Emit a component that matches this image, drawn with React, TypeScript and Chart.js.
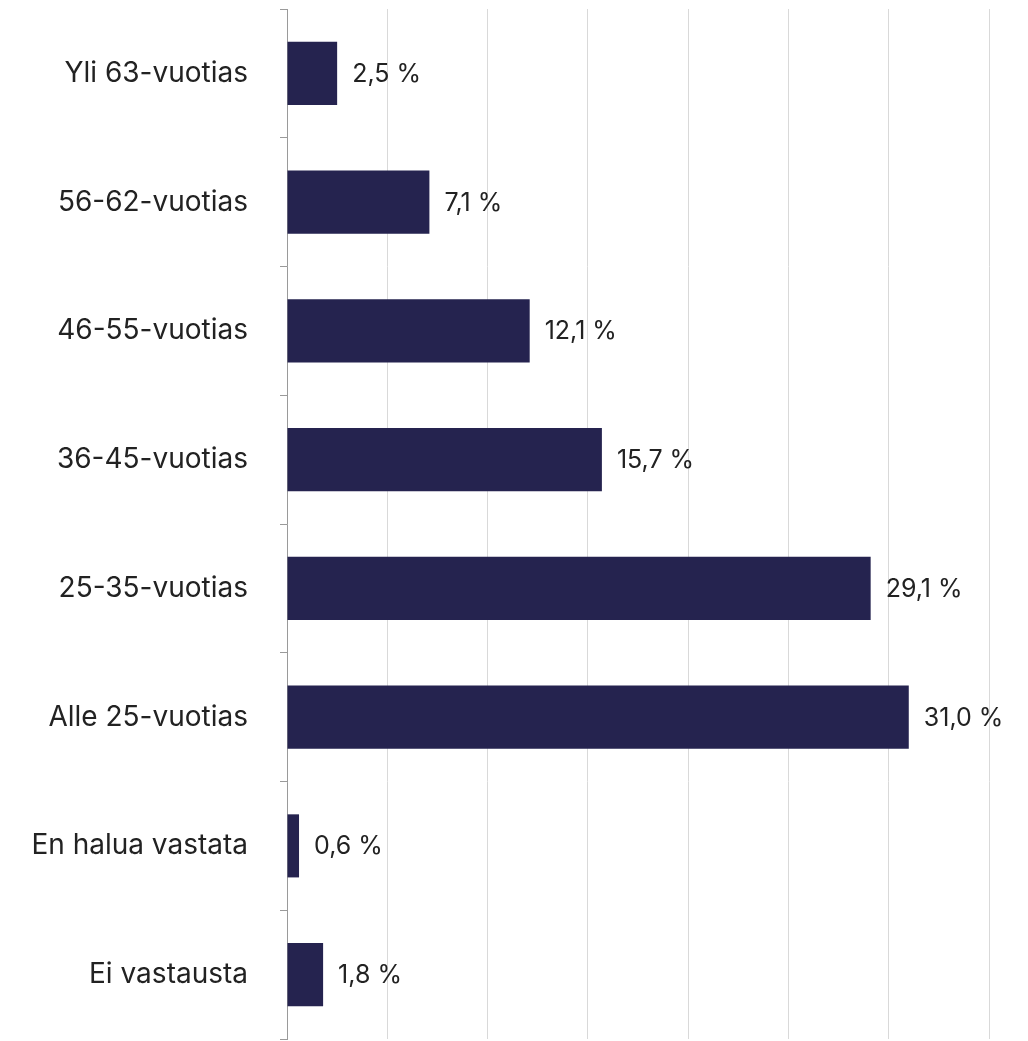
import React, { useEffect, useRef } from "react";
import { Chart, registerables } from "chart.js";

Chart.register(...registerables);

const categories = [
  "Yli 63-vuotias",
  "56-62-vuotias",
  "46-55-vuotias",
  "36-45-vuotias",
  "25-35-vuotias",
  "Alle 25-vuotias",
  "En halua vastata",
  "Ei vastausta",
];
const values = [2.5, 7.1, 12.1, 15.7, 29.1, 31.0, 0.6, 1.8];
const valueLabels = ["2,5 %", "7,1 %", "12,1 %", "15,7 %", "29,1 %", "31,0 %", "0,6 %", "1,8 %"];

const FONT = "Inter, 'Liberation Sans', sans-serif";

const labelPlugin = {
  id: "valueLabels",
  afterDatasetsDraw(chart: any) {
    const ctx = chart.ctx;
    const meta = chart.getDatasetMeta(0);
    ctx.save();
    ctx.font = `400 25px ${FONT}`;
    ctx.fillStyle = "#222222";
    ctx.textAlign = "left";
    ctx.textBaseline = "middle";
    meta.data.forEach((bar: any, i: number) => {
      ctx.fillText(valueLabels[i], bar.x + 15, bar.y + 1);
    });
    ctx.restore();
  },
};

export default function App() {
  const ref = useRef<HTMLCanvasElement | null>(null);
  useEffect(() => {
    if (!ref.current) return;
    const chart = new Chart(ref.current, {
      type: "bar",
      data: {
        labels: categories,
        datasets: [
          {
            data: values,
            backgroundColor: "#25234f",
            borderWidth: 0,
            barPercentage: 0.49,
            categoryPercentage: 1,
          },
        ],
      },
      options: {
        indexAxis: "y",
        animation: false,
        responsive: true,
        maintainAspectRatio: false,
        layout: { padding: { left: 0, top: 9, right: 39, bottom: 2 } },
        plugins: { legend: { display: false }, tooltip: { enabled: false } },
        scales: {
          x: {
            min: 0,
            max: 35,
            ticks: { display: false, stepSize: 5 },
            grid: { color: "#d9d9d9", lineWidth: 1, drawTicks: false },
            border: { display: false },
          },
          y: {
            afterFit: (scale: any) => {
              scale.width = 287;
              scale.paddingTop = 0;
              scale.paddingBottom = 0;
            },
            ticks: {
              color: "#222222",
              font: { family: FONT, size: 28 },
              padding: 32,
            },
            grid: {
              drawOnChartArea: false,
              drawTicks: true,
              tickLength: 7,
              color: "#9a9a9a",
              offset: true,
            },
            border: { display: true, color: "#9a9a9a", width: 1 },
          },
        },
      },
      plugins: [labelPlugin],
    });
    return () => chart.destroy();
  }, []);
  return (
    <div style={{ position: "absolute", left: 0, top: 0, width: 1028, height: 1041, background: "#fff" }}>
      <canvas ref={ref} />
    </div>
  );
}
